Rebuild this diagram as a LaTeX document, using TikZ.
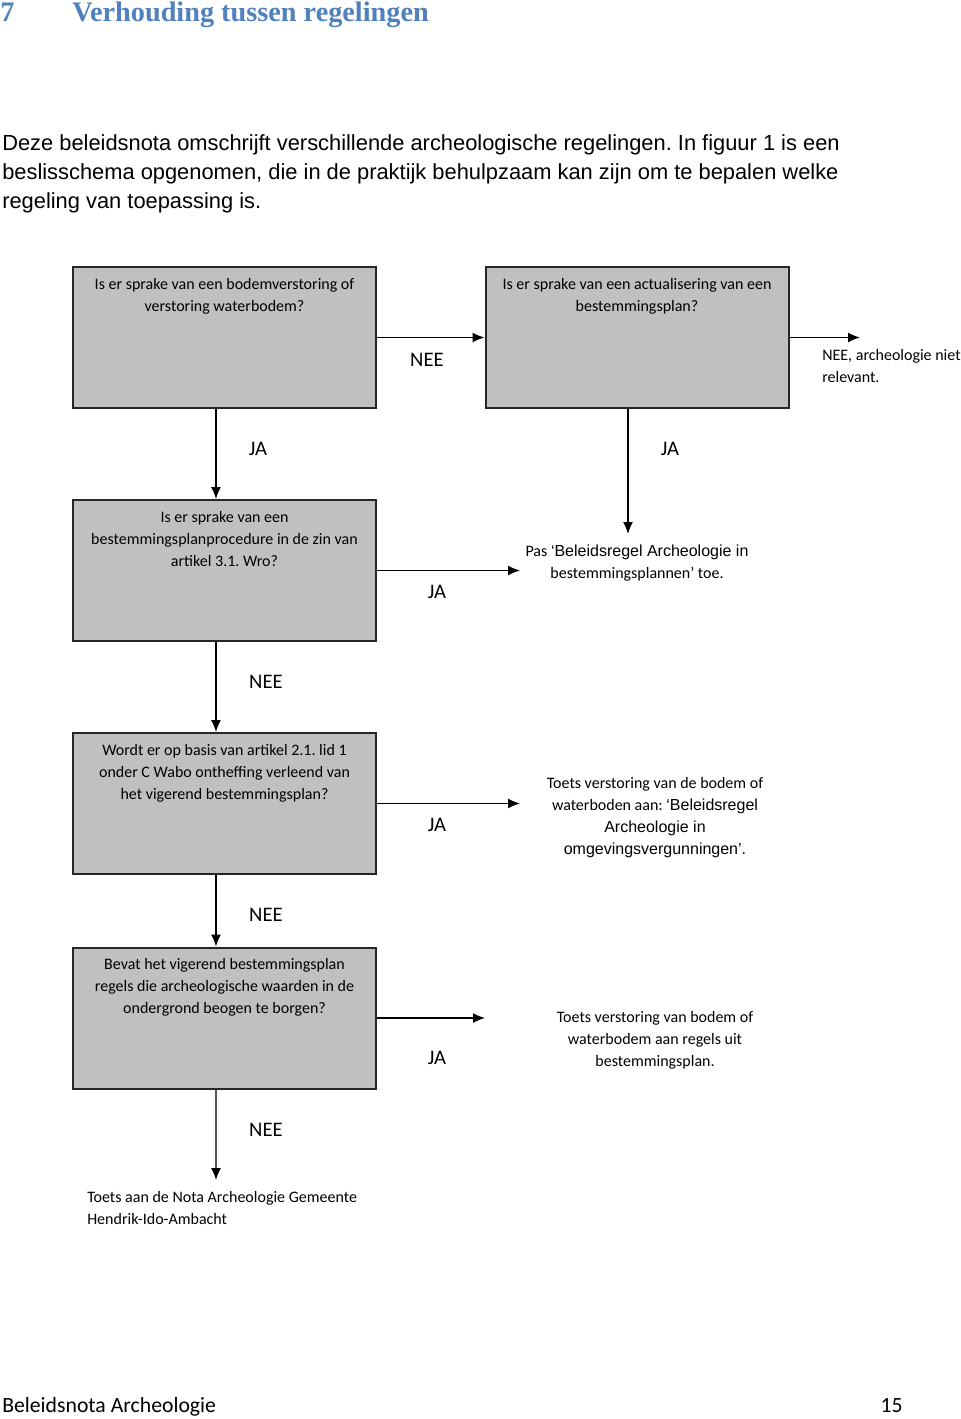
\documentclass[tikz,border=0pt]{standalone}
\usepackage{fontspec}
\setmainfont{Carlito}
\newfontfamily\arialf{Liberation Sans}
\newfontfamily\kopf{Liberation Serif}
\usetikzlibrary{arrows.meta}
\definecolor{kopblauw}{RGB}{79,129,189}
\definecolor{vakgrijs}{RGB}{192,192,192}
\frenchspacing
\tikzset{
	vraag/.style={draw=black!85,line width=1.5pt,fill=vakgrijs,minimum width=227.25pt,minimum height=105.75pt,inner sep=0pt},
	vraagtekst/.style={anchor=north,yshift=-9pt,align=center,inner sep=0pt,font=\fontsize{12}{16.5}\selectfont},
	uitkomst/.style={align=center,inner sep=0pt,font=\fontsize{12}{16.5}\selectfont},
	antw/.style={inner sep=0pt,font=\fontsize{15.5}{18}\selectfont},
	pijl/.style={->,line width=1pt},
}
\begin{document}
\begin{tikzpicture}[>={Latex[length=9pt,width=7.5pt]},x=.75pt,y=-.75pt]
	\fill[white] (0,0) rectangle (960,1419);
	\useasboundingbox (0,0) rectangle (960,1419);
	% kop en inleiding
	\node[anchor=base west,inner sep=0pt,text=kopblauw,font=\kopf\bfseries\fontsize{21.2}{24}\selectfont] (nr) at (0,22) {7};
	\node[anchor=base west,inner sep=0pt,text=kopblauw,font=\kopf\bfseries\fontsize{21.2}{24}\selectfont] (kop) at (72,22) {Verhouding tussen regelingen};
	\node[anchor=north west,inner sep=0pt,align=left,font=\arialf\fontsize{16.4}{21.75}\selectfont] (intro) at (2,134.5)
		{Deze beleidsnota omschrijft verschillende archeologische regelingen. In figuur 1 is een\\
		beslisschema opgenomen, die in de praktijk behulpzaam kan zijn om te bepalen welke\\
		regeling van toepassing is.};
	% vragen
	\node[vraag,label={[vraagtekst]north:Is er sprake van een bodemverstoring of\\verstoring waterbodem?}] (q1) at (224.5,337.5) {};
	\node[vraag,label={[vraagtekst]north:Is er sprake van een actualisering van een\\bestemmingsplan?}] (q2) at (637,337.5) {};
	\node[vraag,label={[vraagtekst]north:Is er sprake van een\\bestemmingsplanprocedure in de zin van\\artikel 3.1. Wro?}] (q3) at (224.5,570.5) {};
	\node[vraag,label={[vraagtekst]north:Wordt er op basis van artikel 2.1. lid 1\\onder C Wabo ontheffing verleend van\\het vigerend bestemmingsplan?}] (q4) at (224.5,803.5) {};
	\node[vraag,label={[vraagtekst]north:Bevat het vigerend bestemmingsplan\\regels die archeologische waarden in de\\ondergrond beogen te borgen?}] (q5) at (224.5,1018) {};
	% uitkomsten
	\node[uitkomst,anchor=west,align=left] (u0) at (822,366) {NEE, archeologie niet\\relevant.};
	\node[uitkomst] (u1) at (637,563) {Pas {\arialf ‘Beleidsregel Archeologie in}\\bestemmingsplannen’ toe.};
	\node[uitkomst] (u2) at (655,818) {Toets verstoring van de bodem of\\waterboden aan: {\arialf ‘Beleidsregel}\\{\arialf Archeologie in}\\{\arialf omgevingsvergunningen’.}};
	\node[uitkomst] (u3) at (655,1040) {Toets verstoring van bodem of\\waterbodem aan regels uit\\bestemmingsplan.};
	\node[uitkomst,anchor=west,align=left] (u4) at (87,1208) {Toets aan de Nota Archeologie Gemeente\\Hendrik-Ido-Ambacht};
	\coordinate (p0) at (860,337.5);
	\coordinate (p1) at (628,534);
	\coordinate (p2) at (520,570.5);
	\coordinate (p3) at (520,803.5);
	\coordinate (p4) at (485,1018);
	\coordinate (p5) at (216,1180);
	% pijlen
	\draw[pijl] (q1.east) -- (q2.west);
	\draw[pijl] (q2.east) -- (p0);
	\draw[pijl] ([xshift=-6.4pt]q1.south) -- ([xshift=-6.4pt]q3.north);
	\draw[pijl] ([xshift=-6.75pt]q2.south) -- (p1);
	\draw[pijl] (q3.east) -- (p2);
	\draw[pijl] ([xshift=-6.4pt]q3.south) -- ([xshift=-6.4pt]q4.north);
	\draw[pijl] (q4.east) -- (p3);
	\draw[pijl] ([xshift=-6.4pt]q4.south) -- ([xshift=-6.4pt]q5.north);
	\draw[pijl] (q5.east) -- (p4);
	\draw[pijl] ([xshift=-6.4pt]q5.south) -- (p5);
	% antwoorden
	\foreach \t/\x/\y [count=\i] in {NEE/427/360,JA/258/449,JA/670/449,JA/437/592,NEE/266/682,JA/437/825,NEE/266/915,JA/437/1058,NEE/266/1130}
		\node[antw] (a\i) at (\x,\y) {\t};
	% voettekst
	\node[anchor=base west,inner sep=0pt,font=\fontsize{16.3}{18}\selectfont] (voet) at (2,1412) {Beleidsnota Archeologie};
	\node[anchor=base east,inner sep=0pt,font=\fontsize{16.3}{18}\selectfont] (blz) at (903,1412) {15};
\end{tikzpicture}
\end{document}
